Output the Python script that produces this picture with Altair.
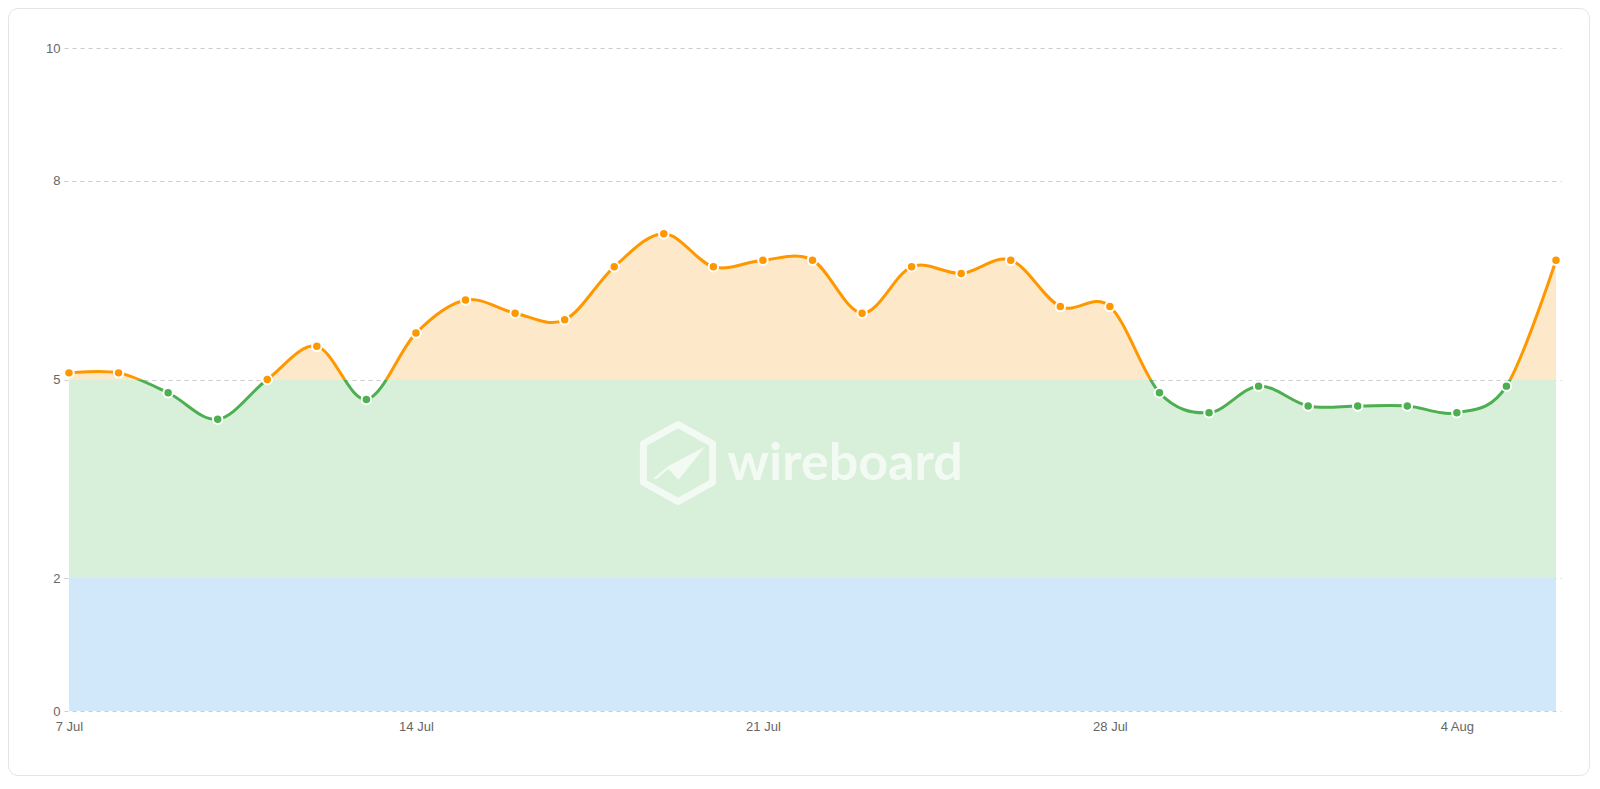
import altair as alt
import pandas as pd

# ---- data -------------------------------------------------------------
dates = [
    "2024-07-07", "2024-07-08", "2024-07-09", "2024-07-10", "2024-07-11",
    "2024-07-12", "2024-07-13", "2024-07-14", "2024-07-15", "2024-07-16",
    "2024-07-17", "2024-07-18", "2024-07-19", "2024-07-20", "2024-07-21",
    "2024-07-22", "2024-07-23", "2024-07-24", "2024-07-25", "2024-07-26",
    "2024-07-27", "2024-07-28", "2024-07-29", "2024-07-30", "2024-07-31",
    "2024-08-01", "2024-08-02", "2024-08-03", "2024-08-04", "2024-08-05",
    "2024-08-06",
]
values = [
    5.1, 5.1, 4.8, 4.4, 5.0, 5.5, 4.7, 5.7, 6.2, 6.0,
    5.9, 6.7, 7.2, 6.7, 6.8, 6.8, 6.0, 6.7, 6.6, 6.8,
    6.1, 6.1, 4.8, 4.5, 4.9, 4.6, 4.6, 4.6, 4.5, 4.9,
    6.8,
]
x_tick_dates = [(2024, 7, 7), (2024, 7, 14), (2024, 7, 21), (2024, 7, 28), (2024, 8, 4)]
y_ticks = [0, 2, 5, 8, 10]
y_domain = [0, 10]
low_threshold = 2
high_threshold = 5
watermark_text = "wireboard"

# ---- styles -----------------------------------------------------------
ORANGE = "#FF9800"
GREEN = "#4CAF50"
ORANGE_FILL = "#FDE8C9"
GREEN_FILL = "#D8EFD9"
BLUE_FILL = "#D1E7FA"
FONT = "Liberation Sans"

PLOT_W, PLOT_H = 1497, 663
PAD = {"left": 56, "top": 40, "right": 29, "bottom": 65}

df = pd.DataFrame({"date": [d + "T00:00:00" for d in dates], "value": values})

vmax = max(values)
vmin = min(values)

# line stroke: orange above the high threshold, green below (bbox = [vmin, vmax])
line_off = (vmax - high_threshold) / (vmax - vmin)
line_grad = alt.Gradient(
    gradient="linear", x1=0, x2=0, y1=0, y2=1,
    stops=[
        alt.GradientStop(color=ORANGE, offset=0),
        alt.GradientStop(color=ORANGE, offset=line_off),
        alt.GradientStop(color=GREEN, offset=line_off),
        alt.GradientStop(color=GREEN, offset=1),
    ],
)

# area fill: bands (bbox = [0, vmax])
a1 = (vmax - high_threshold) / vmax
a2 = (vmax - low_threshold) / vmax
area_grad = alt.Gradient(
    gradient="linear", x1=0, x2=0, y1=0, y2=1,
    stops=[
        alt.GradientStop(color=ORANGE_FILL, offset=0),
        alt.GradientStop(color=ORANGE_FILL, offset=a1),
        alt.GradientStop(color=GREEN_FILL, offset=a1),
        alt.GradientStop(color=GREEN_FILL, offset=a2),
        alt.GradientStop(color=BLUE_FILL, offset=a2),
        alt.GradientStop(color=BLUE_FILL, offset=1),
    ],
)

x_enc = alt.X(
    "date:T",
    title=None,
    scale=alt.Scale(padding=5, nice=False),
    axis=alt.Axis(
        values=[alt.DateTime(year=y, month=m, date=d) for (y, m, d) in x_tick_dates],
        format="%-d %b",
        grid=False,
        labelPadding=9,
    ),
)
y_enc = alt.Y(
    "value:Q",
    title=None,
    scale=alt.Scale(domain=y_domain, nice=False),
    axis=alt.Axis(values=y_ticks, grid=True, labelPadding=4),
)

base = alt.Chart(df).encode(x=x_enc, y=y_enc)

area = base.mark_area(interpolate="cardinal", color=area_grad, opacity=1)
line = base.mark_line(interpolate="cardinal", stroke=line_grad, strokeWidth=3)
points = base.mark_point(filled=True, size=90, stroke="white", strokeWidth=2, opacity=1).encode(
    fill=alt.condition(alt.datum.value >= high_threshold, alt.value(ORANGE), alt.value(GREEN))
)

one = alt.Data(values=[{}])

hexagon = alt.Chart(one).mark_point(
    shape="M0,-1L0.9,-0.5L0.9,0.5L0,1L-0.9,0.5L-0.9,-0.5Z",
    filled=False, stroke="white", strokeWidth=7, strokeJoin="round",
    size=5929, opacity=0.7,
).encode(x=alt.value(614), y=alt.value(415))

check = alt.Chart(one).mark_point(
    shape="M-0.64,0.40L-0.25,0.08L0.70,-0.42L0.01,0.44L-0.20,0.20L-0.27,0.17L-0.56,0.42Z",
    filled=True, fill="white", strokeWidth=0, size=5929, opacity=0.7,
).encode(x=alt.value(614), y=alt.value(415))

wm_text = alt.Chart(one).mark_text(
    text=watermark_text, font="Lato", fontWeight="bold", fontSize=52,
    color="white", opacity=0.7, align="center", baseline="alphabetic",
).encode(x=alt.value(781), y=alt.value(432))

total_w = PLOT_W + PAD["left"] + PAD["right"]
total_h = PLOT_H + PAD["top"] + PAD["bottom"]
frame = alt.Chart(one).mark_rect(
    fill="transparent", stroke="#E3E3E8", strokeWidth=1, cornerRadius=10,
).encode(
    x=alt.value(-PAD["left"] + 0.5),
    x2=alt.value(total_w - PAD["left"] - 0.5),
    y=alt.value(-PAD["top"] + 0.5),
    y2=alt.value(total_h - PAD["top"] - 0.5),
)

chart = alt.layer(area, hexagon, check, wm_text, line, points, frame).properties(
    width=PLOT_W,
    height=PLOT_H,
    autosize=alt.AutoSizeParams(type="none"),
    padding=PAD,
    background="white",
).configure_view(strokeWidth=0).configure_axis(
    domain=False,
    ticks=False,
    labelFont=FONT,
    labelFontSize=13,
    labelColor="#666666",
    gridColor="#CCCCCC",
    gridDash=[4, 4],
    gridWidth=1,
)

chart.save("out.html", embed_options={"renderer": "svg", "actions": False})
